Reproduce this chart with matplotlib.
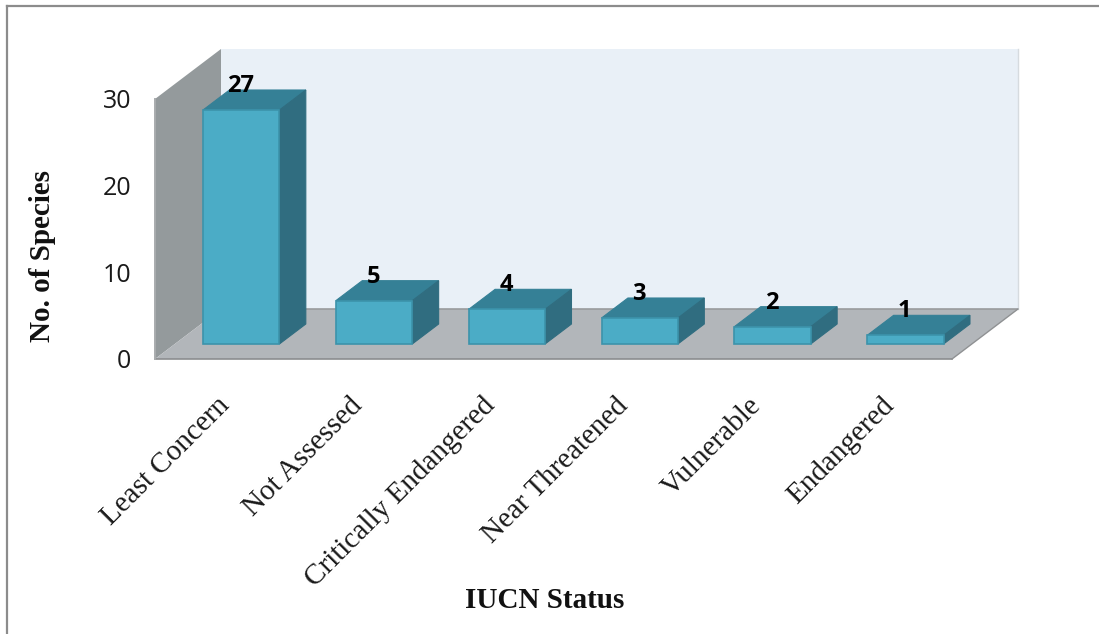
import matplotlib
matplotlib.use("Agg")
import matplotlib.pyplot as plt
from matplotlib.patches import Polygon
from matplotlib.lines import Line2D
from matplotlib.transforms import ScaledTranslation

categories = ["Least Concern", "Not Assessed", "Critically Endangered",
              "Near Threatened", "Vulnerable", "Endangered"]
species = [27, 5, 4, 3, 2, 1]
y_ticks = [0, 10, 20, 30]

W, H = 1099, 634
fig = plt.figure(figsize=(W / 100, H / 100), dpi=100, facecolor="white")

# The axes span the front plane of the oblique chart box
L, R, T, B = 155, 952, 99, 359
ax = fig.add_axes([L / W, 1 - B / H, (R - L) / W, (B - T) / H])
ax.set_xlim(0, 6)
ax.set_ylim(0, 30)
ax.patch.set_visible(False)
for s in ax.spines.values():
    s.set_visible(False)

# Depth vector of the box, in data units
DX = 66 / ((R - L) / 6)
DY = 50 / ((B - T) / 30)


def poly(points, face, edge="none", lw=0.0, z=1):
    xy = [(x + d * DX, y + d * DY) for x, y, d in points]
    ax.add_patch(Polygon(xy, closed=True, facecolor=face, edgecolor=edge,
                         linewidth=lw, zorder=z, clip_on=False,
                         joinstyle="miter"))


# Back wall, side wall and floor
poly([(0, 0, 1), (6, 0, 1), (6, 30, 1), (0, 30, 1)], "#e9f0f7", z=1)
poly([(0, 0, 0), (0, 0, 1), (0, 30, 1), (0, 30, 0)], "#949a9c", z=2)
poly([(0, 0, 0), (6, 0, 0), (6, 0, 1), (0, 0, 1)], "#b2b6ba", z=2)
ax.add_line(Line2D([0 + DX, 6 + DX], [DY, DY], color="#999b9d", lw=1.2, zorder=3, clip_on=False))
ax.add_line(Line2D([6 + DX, 6 + DX], [DY, 30 + DY], color="#d6dbdf", lw=1.0, zorder=3, clip_on=False))
ax.add_line(Line2D([0, 6], [0, 0], color="#8b8d8f", lw=1.2, zorder=3, clip_on=False))
ax.add_line(Line2D([6, 6 + DX], [0, DY], color="#8f9193", lw=1.0, zorder=3, clip_on=False))
ax.add_line(Line2D([0, 0], [0, 30], color="#a9acae", lw=1.4, zorder=3, clip_on=False))

# Bars: a front face with top and side faces pushed back along the depth vector
BAR_W = 0.575
D0, D1 = 0.30, 0.70
for i, v in enumerate(species):
    x0 = i + 0.5 - BAR_W / 2
    x1 = i + 0.5 + BAR_W / 2
    z = 5 + i
    poly([(x0, 0, D0), (x1, 0, D0), (x1, v, D0), (x0, v, D0)], "#4bacc6", "#3c93ab", 1.2, z + 0.2)
    poly([(x0, v, D0), (x1, v, D0), (x1, v, D1), (x0, v, D1)], "#358096", "#358096", 0.8, z)
    poly([(x1, 0, D0), (x1, 0, D1), (x1, v, D1), (x1, v, D0)], "#306d80", "#306d80", 0.8, z + 0.1)
    ax.annotate(str(v), xy=(i + 0.5 + 0.5 * DX, v + 0.47 * DY), xytext=(-10, 2.5),
                textcoords="offset points", ha="center", va="bottom",
                fontsize=17, fontweight="bold", family="Open Sans", color="black",
                zorder=20, annotation_clip=False)

# Axis ticks and titles
ax.set_yticks(y_ticks)
ax.set_yticklabels([str(t) for t in y_ticks], fontsize=18, family="Open Sans", color="#1a1a1a")
ax.tick_params(axis="y", length=0, pad=17)
ax.set_xticks([i + 0.5 for i in range(len(categories))])
ax.set_xticklabels(categories, rotation=45, ha="right", rotation_mode="anchor",
                   fontsize=21, family="Liberation Serif", color="#1a1a1a")
ax.tick_params(axis="x", length=0, pad=24)
for lab in ax.get_xticklabels():
    lab.set_transform(lab.get_transform() + ScaledTranslation(-5 / 100, 0, fig.dpi_scale_trans))

fig.text(43 / W, 1 - 256 / H, "No. of Species", rotation=90, ha="center", va="center",
         fontsize=21, fontweight="bold", family="Liberation Serif", color="#111111")
fig.text(545 / W, 1 - 601 / H, "IUCN Status", ha="center", va="center",
         fontsize=21, fontweight="bold", family="Liberation Serif", color="#111111")

# Outer frame along the top and left
fig.add_artist(Line2D([7 / W, 7 / W], [0, 1 - 6 / H], color="#8c8c8c", lw=1.6))
fig.add_artist(Line2D([7 / W, 1], [1 - 6 / H, 1 - 6 / H], color="#8c8c8c", lw=1.6))

fig.savefig("out.png", dpi=100)
